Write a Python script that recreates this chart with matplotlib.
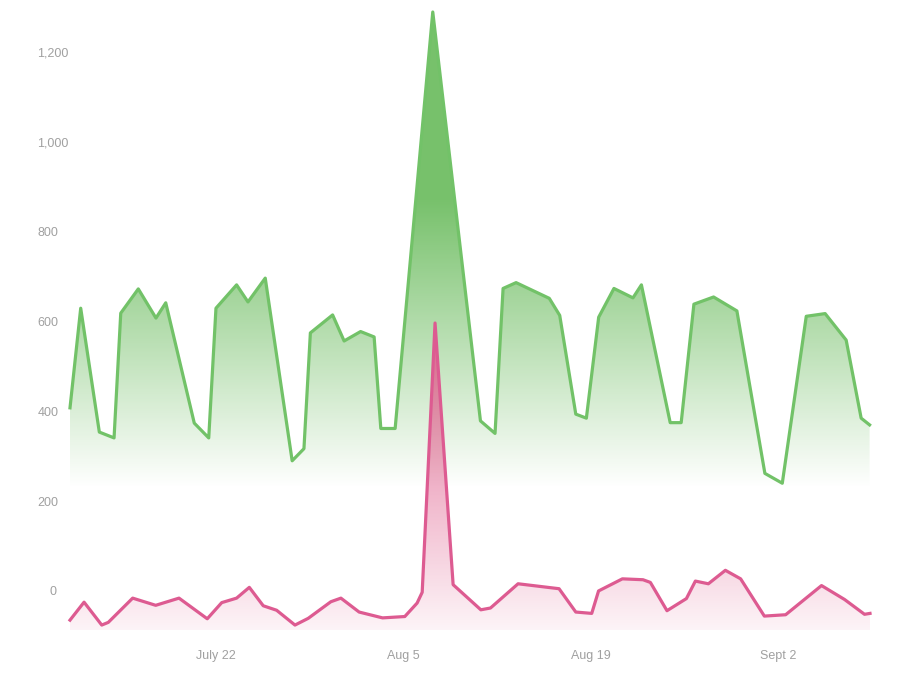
import matplotlib
matplotlib.use("Agg")
import matplotlib.pyplot as plt
import matplotlib.dates as mdates
import matplotlib.transforms as mtransforms
import numpy as np
import pandas as pd

# x positions are days after July 22 (points are not evenly spaced)
green_days = [-10.90, -10.10, -8.71, -7.61, -7.11, -5.80, -4.48, -3.75, -1.62, -0.54,
              0.00, 1.54, 2.39, 3.68, 5.69, 6.57, 7.05, 8.71, 9.57, 10.80,
              11.81, 12.31, 13.38, 16.19, 19.75, 20.84, 21.44, 22.41, 24.89, 25.67,
              26.87, 27.66, 28.58, 29.72, 31.14, 31.77, 33.92, 34.74, 35.69, 37.16,
              38.90, 40.99, 42.29, 44.08, 45.49, 47.06, 48.18, 48.81]
green_values = [408, 630, 354, 341, 619, 673, 608, 642, 374, 341,
                630, 682, 644, 697, 290, 317, 575, 615, 557, 578,
                566, 362, 362, 1290, 379, 351, 674, 687, 652, 614,
                394, 385, 610, 674, 653, 682, 375, 375, 639, 655,
                624, 262, 240, 612, 618, 559, 385, 370]

pink_days = [-10.90, -9.85, -8.53, -8.04, -6.22, -4.50, -2.76, -0.65, 0.43, 1.54,
             2.49, 3.53, 4.53, 5.90, 6.89, 8.58, 9.33, 10.69, 12.44, 14.10,
             15.02, 15.40, 16.36, 17.71, 19.78, 20.50, 22.56, 25.62, 26.87, 28.06,
             28.57, 30.35, 31.89, 32.44, 33.68, 35.13, 35.80, 36.77, 38.04, 39.18,
             40.95, 42.54, 45.22, 46.94, 48.43, 48.84]
pink_values = [-65, -25, -76, -70, -16, -32, -16, -62, -26, -16,
               8, -33, -43, -76, -61, -24, -16, -47, -60, -57,
               -27, -3, 597, 14, -42, -38, 16, 5, -47, -50,
               0, 27, 25, 19, -44, -17, 22, 16, 46, 27,
               -56, -53, 12, -19, -52, -50]

tick_dates = ["2019-07-22", "2019-08-05", "2019-08-19", "2019-09-02"]
tick_labels = ["July 22", "Aug 5", "Aug 19", "Sept 2"]
y_ticks = [0, 200, 400, 600, 800, 1000, 1200]
y_labels = ["0", "200", "400", "600", "800", "1,000", "1,200"]

base = pd.Timestamp("2019-07-22")


def to_num(days):
    return mdates.date2num(base + pd.to_timedelta(days, unit="D"))


Y_LO, Y_HI = -87, 1290

plt.rcParams['font.family'] = ['Liberation Sans', 'DejaVu Sans']

fig = plt.figure(figsize=(9.14, 6.82), dpi=100)
ax = fig.add_axes([70 / 914, 1 - 630 / 682, 800 / 914, 618 / 682])


def gradient_fill(ax, x, y, rgb, stops_y, stops_a, z):
    fill = ax.fill_between(x, y, Y_LO, color="none", lw=0)
    ys = np.linspace(Y_LO, Y_HI, 800)
    alpha = np.interp(ys, stops_y, stops_a)
    img = np.zeros((len(ys), 1, 4))
    img[..., :3] = rgb
    img[..., 3] = alpha[:, None]
    im = ax.imshow(img, origin="lower", aspect="auto", interpolation="bilinear",
                   extent=[x.min(), x.max(), Y_LO, Y_HI], zorder=z)
    im.set_clip_path(fill.get_paths()[0], ax.transData)


gx = to_num(green_days)
px = to_num(pink_days)

gradient_fill(ax, gx, green_values, (0.47, 0.76, 0.42), [230, 871], [0.0, 1.0], 1)
ax.plot(gx, green_values, color="#72c268", lw=2.3, zorder=3, clip_on=False)

gradient_fill(ax, px, pink_values, (0.88, 0.38, 0.56), [Y_LO, 600], [0.07, 0.95], 2)
ax.plot(px, pink_values, color="#dd5b91", lw=2.3, zorder=4, clip_on=False)

ax.set_xlim(min(gx.min(), px.min()), max(gx.max(), px.max()))
ax.set_ylim(Y_LO, Y_HI)

ax.set_xticks(to_num([(pd.Timestamp(d) - base).days for d in tick_dates]))
ax.set_xticklabels(tick_labels)
ax.set_yticks(y_ticks)
ax.set_yticklabels(y_labels)

ax.tick_params(axis="both", length=0, labelsize=9, labelcolor="#a0a0a0")
ax.tick_params(axis="x", pad=14.5)
ax.tick_params(axis="y", pad=23.5)
for lab in ax.get_yticklabels():
    lab.set_horizontalalignment("left")
    if lab.get_text() == "0":
        lab.set_transform(lab.get_transform() +
                          mtransforms.ScaledTranslation(0.12, 0, fig.dpi_scale_trans))

for s in ax.spines.values():
    s.set_visible(False)

fig.savefig("out.png", dpi=100)
